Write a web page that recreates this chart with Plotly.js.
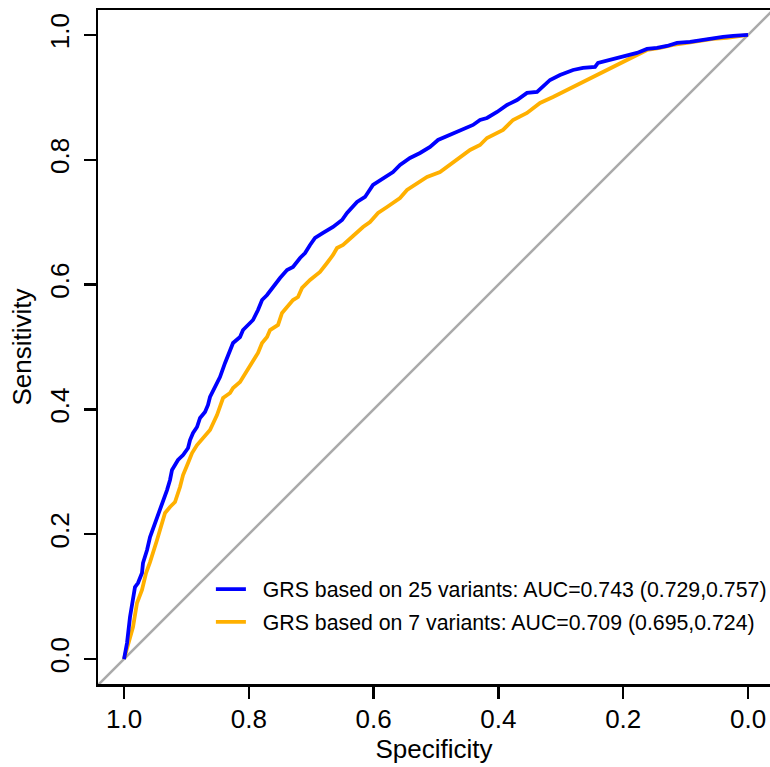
<!DOCTYPE html>
<html>
<head>
<meta charset="utf-8">
<script src="https://cdn.plot.ly/plotly-3.0.1.min.js"></script>
<style>html,body{margin:0;padding:0;background:#fff;}#chart{width:770px;height:767px;}</style>
</head>
<body>
<div id="chart"></div>
<script>
// GRS based on 25 variants (blue)
const spec25 = [1.0000,0.9952,0.9904,0.9856,0.9824,0.9776,0.9744,0.9712,0.9696,0.9631,0.9583,0.9503,0.9423,0.9375,0.9311,0.9263,0.9231,0.9183,0.9135,0.9054,0.8974,0.8942,0.8894,0.8830,0.8782,0.8702,0.8654,0.8622,0.8542,0.8462,0.8381,0.8301,0.8253,0.8141,0.8093,0.7981,0.7933,0.7853,0.7788,0.7708,0.7612,0.7500,0.7388,0.7292,0.7179,0.7099,0.7019,0.6939,0.6811,0.6651,0.6506,0.6426,0.6266,0.6138,0.6010,0.5849,0.5689,0.5577,0.5417,0.5256,0.5096,0.4968,0.4776,0.4615,0.4407,0.4295,0.4183,0.4022,0.3862,0.3702,0.3542,0.3381,0.3285,0.3173,0.3013,0.2804,0.2644,0.2452,0.2404,0.2212,0.2003,0.1779,0.1619,0.1458,0.1298,0.1138,0.0929,0.0721,0.0561,0.0401,0.0240,0.0000];
const sens25 = [0.0000,0.0256,0.0673,0.0994,0.1154,0.1218,0.1298,0.1378,0.1538,0.1747,0.1955,0.2179,0.2388,0.2500,0.2708,0.2869,0.3029,0.3109,0.3189,0.3269,0.3381,0.3510,0.3622,0.3718,0.3862,0.3958,0.4071,0.4199,0.4359,0.4519,0.4744,0.4952,0.5064,0.5160,0.5272,0.5385,0.5433,0.5593,0.5753,0.5833,0.5962,0.6106,0.6234,0.6282,0.6426,0.6506,0.6635,0.6747,0.6827,0.6923,0.7035,0.7147,0.7324,0.7404,0.7596,0.7708,0.7804,0.7917,0.8029,0.8109,0.8205,0.8317,0.8397,0.8478,0.8558,0.8638,0.8670,0.8766,0.8878,0.8958,0.9071,0.9087,0.9167,0.9279,0.9359,0.9439,0.9471,0.9487,0.9551,0.9599,0.9647,0.9712,0.9776,0.9792,0.9824,0.9872,0.9888,0.9920,0.9952,0.9970,0.9984,1.0000];

// GRS based on 7 variants (orange)
const spec7 = [1.0000,0.9936,0.9904,0.9856,0.9792,0.9712,0.9647,0.9583,0.9471,0.9391,0.9343,0.9263,0.9183,0.9103,0.9054,0.8974,0.8910,0.8830,0.8734,0.8622,0.8510,0.8462,0.8413,0.8301,0.8253,0.8141,0.8029,0.7933,0.7853,0.7788,0.7708,0.7660,0.7532,0.7468,0.7388,0.7292,0.7212,0.7147,0.7019,0.6859,0.6747,0.6651,0.6587,0.6490,0.6330,0.6170,0.6058,0.5929,0.5785,0.5577,0.5465,0.5256,0.5144,0.4936,0.4776,0.4615,0.4455,0.4295,0.4183,0.3926,0.3766,0.3542,0.3333,0.3125,0.2901,0.2692,0.2420,0.2212,0.2003,0.1779,0.1619,0.1410,0.1202,0.0978,0.0769,0.0561,0.0337,0.0128,0.0000];
const sens7 = [0.0000,0.0224,0.0353,0.0513,0.0897,0.1106,0.1378,0.1554,0.1907,0.2179,0.2340,0.2436,0.2516,0.2756,0.2949,0.3141,0.3301,0.3429,0.3542,0.3670,0.3910,0.4038,0.4183,0.4263,0.4343,0.4439,0.4631,0.4792,0.4904,0.5064,0.5160,0.5272,0.5353,0.5545,0.5641,0.5753,0.5801,0.5946,0.6074,0.6202,0.6346,0.6474,0.6587,0.6635,0.6779,0.6923,0.7003,0.7147,0.7244,0.7388,0.7516,0.7644,0.7724,0.7804,0.7917,0.8029,0.8157,0.8237,0.8349,0.8478,0.8638,0.8750,0.8910,0.9006,0.9119,0.9231,0.9359,0.9471,0.9567,0.9679,0.9760,0.9792,0.9840,0.9872,0.9904,0.9936,0.9952,0.9984,1.0000];

const diagSpec = [1.2, -0.2];
const diagSens = [-0.2, 1.2];

const tickVals = [0, 0.2, 0.4, 0.6, 0.8, 1.0];
const tickText = ["0.0", "0.2", "0.4", "0.6", "0.8", "1.0"];

const name25 = "GRS based on 25 variants: AUC=0.743 (0.729,0.757)";
const name7 = "GRS based on 7 variants: AUC=0.709 (0.695,0.724)";
const PAD = "\u00a0\u00a0";

const FONT = "Liberation Sans, Arial, Helvetica, sans-serif";

const traces = [
  {x: diagSpec, y: diagSens, mode: "lines", line: {color: "#AAAAAA", width: 2.5}, showlegend: false, hoverinfo: "skip"},
  {x: spec7, y: sens7, mode: "lines", name: PAD + name7, line: {color: "#FFB000", width: 3.8}, legendrank: 2, legendgroup: "b"},
  {x: spec25, y: sens25, mode: "lines", name: PAD + name25, line: {color: "#0000FF", width: 3.8}, legendrank: 1, legendgroup: "a"}
];

const layout = {
  width: 770, height: 767,
  margin: {l: 98, r: 0, t: 10, b: 83, pad: 0, autoexpand: false},
  paper_bgcolor: "#fff", plot_bgcolor: "#fff",
  font: {family: FONT, color: "#000", size: 26},
  showlegend: true,
  legend: {x: 0.168, y: 0.171, xanchor: "left", yanchor: "top", bgcolor: "rgba(0,0,0,0)",
           font: {size: 21.3, family: FONT}, traceorder: "grouped", tracegroupgap: 2},
  xaxis: {range: [1.0417, -0.0352], showgrid: false, zeroline: false, showline: true, linecolor: "#000", linewidth: 2.5,
          mirror: true, ticks: "outside", ticklen: 12, tickwidth: 2.5, tickcolor: "#000",
          tickvals: tickVals, ticktext: tickText, tickfont: {size: 26}, ticklabelstandoff: -2,
          title: {text: "Specificity", font: {size: 26}, standoff: 6}},
  yaxis: {range: [-0.04, 1.04], showgrid: false, zeroline: false, showline: true, linecolor: "#000", linewidth: 2.5,
          ticks: "outside", ticklen: 12, tickwidth: 2.5, tickcolor: "#000", tickangle: -90,
          tickvals: tickVals, ticktext: tickText, tickfont: {size: 26}, ticklabelstandoff: 4,
          title: {text: "Sensitivity", font: {size: 26}, standoff: 6}}
};

Plotly.newPlot("chart", traces, layout, {displayModeBar: false, staticPlot: true});
</script>
</body>
</html>
